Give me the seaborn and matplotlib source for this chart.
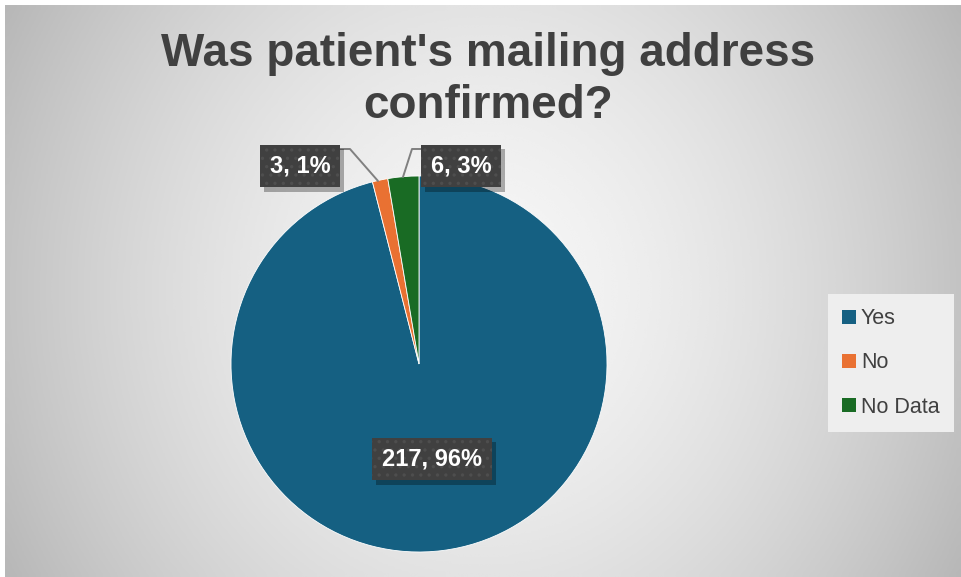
import numpy as np
import matplotlib
matplotlib.use("Agg")
import matplotlib.pyplot as plt
import matplotlib.patheffects as pe
from matplotlib.patches import Patch
import seaborn as sns

categories = ["Yes", "No", "No Data"]
counts = [217, 3, 6]
colors = ["#156082", "#E97132", "#196B24"]
title = "Was patient's mailing address\nconfirmed?"

sns.set_style("white")
plt.rcParams["font.family"] = ["Liberation Sans", "DejaVu Sans"]

W, H = 961, 577
fig = plt.figure(figsize=(W / 100, H / 100), dpi=100)
fig.patch.set_facecolor("white")

# radial gradient background
bg = fig.add_axes([5 / W, 0, (W - 5) / W, (H - 5) / H])
xx, yy = np.meshgrid(np.linspace(-1, 1, 400), np.linspace(-1, 1, 240))
r = np.sqrt(xx ** 2 + (0.55 * yy) ** 2)
shade = 0.965 - 0.20 * np.clip(r, 0, 1.3) ** 1.6
bg.imshow(shade, cmap="gray", vmin=0, vmax=1, aspect="auto", interpolation="bicubic")
bg.set_axis_off()

# pie axes covering the whole figure, 1 unit = 188 px, center at (419, 364)
cx, cy, R = 419, 364, 188
ax = fig.add_axes([0, 0, 1, 1])
ax.patch.set_alpha(0)
ax.pie(counts, colors=colors, startangle=90, counterclock=False,
       wedgeprops=dict(edgecolor="white", linewidth=0.6))
ax.set_xlim(-cx / R, (W - cx) / R)
ax.set_ylim(-(H - cy) / R, cy / R)
ax.set_aspect("equal")
ax.set_axis_off()


def px(x, y):
    return ((x - cx) / R, (cy - y) / R)


class PlainShadow(pe.SimplePatchShadow):
    # shadow without the dotted hatch of the box
    def draw_path(self, renderer, gc, tpath, affine, rgbFace):
        gc0 = renderer.new_gc()
        gc0.copy_properties(gc)
        gc0.set_hatch(None)
        super().draw_path(renderer, gc0, tpath, affine, rgbFace)


total = sum(counts)
labels = [f"{c}, {round(100 * c / total):.0f}%" for c in counts]
label_pos = [(432, 459), (300, 166), (461, 166)]

# leader lines
ax.plot(*zip(px(340, 149), px(350, 149), px(378, 181)), color="#808080", lw=1.4)
ax.plot(*zip(px(421, 149), px(412, 149), px(403, 177)), color="#808080", lw=1.4)

plt.rcParams["hatch.linewidth"] = 1.2
for lab, (lx, ly) in zip(labels, label_pos):
    t = ax.text(*px(lx, ly), lab, ha="center", va="center", color="white",
                fontsize=17, fontweight="bold",
                bbox=dict(boxstyle="square,pad=0.42", fc="#404040",
                          ec="#4e4e4e", lw=0.0, hatch=".."))
    t.get_bbox_patch().set_path_effects(
        [PlainShadow(offset=(3, -3), shadow_rgbFace="black", alpha=0.3), pe.Normal()])

fig.text(488 / W, 1 - 80 / H, title, ha="center", va="center", fontsize=33,
         fontweight="bold", color="#404040", linespacing=1.22)

handles = [Patch(facecolor=c, edgecolor="none") for c in colors]
leg = fig.legend(handles, categories, loc="center", bbox_to_anchor=(891 / W, 1 - 363 / H),
                 fontsize=15.5, frameon=True, fancybox=False, handlelength=0.62,
                 handleheight=0.62, handletextpad=0.25, labelspacing=1.08,
                 borderpad=0.65, labelcolor="#404040")
leg.get_frame().set_facecolor("#eeeeee")
leg.get_frame().set_edgecolor("none")
leg.get_frame().set_alpha(1)

fig.savefig("out.png", dpi=100)
